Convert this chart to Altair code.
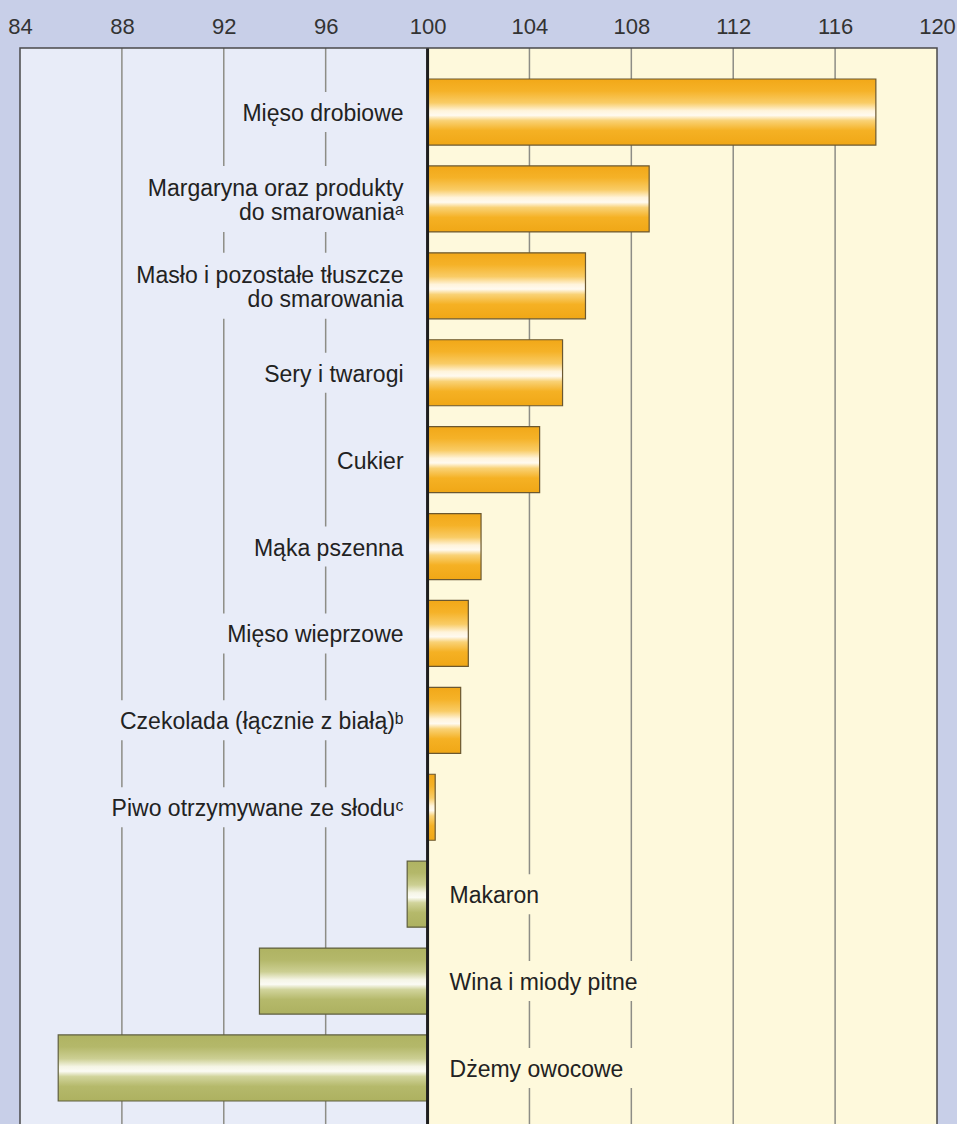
import altair as alt
import pandas as pd

# ---- data ----
categories = [
    "Mięso drobiowe",
    "Margaryna oraz produkty\ndo smarowaniaᵃ",
    "Masło i pozostałe tłuszcze\ndo smarowania",
    "Sery i twarogi",
    "Cukier",
    "Mąka pszenna",
    "Mięso wieprzowe",
    "Czekolada (łącznie z białą)ᵇ",
    "Piwo otrzymywane ze słoduᶜ",
    "Makaron",
    "Wina i miody pitne",
    "Dżemy owocowe",
]
values = [117.6, 108.7, 106.2, 105.3, 104.4, 102.1, 101.6, 101.3, 100.3, 99.2, 93.4, 85.5]
tick_values = [84, 88, 92, 96, 100, 104, 108, 112, 116, 120]
grid_values = [88, 92, 96, 104, 108, 112, 116]
baseline = 100

W, H = 917, 1084
XMIN, XMAX = 84, 120
BG = "#c8cfe8"
LEFT_BG = "#e8ecf8"
RIGHT_BG = "#fef9dc"
FONT = "Liberation Sans"
FS = 23
LH = 24
DX_POS, DX_NEG = -24, 22

# approximate Arial/Liberation Sans advance widths (em/1000) used to size the
# gaps that the labels cut into the grid lines
ADV = {" ": 278, "a": 556, "b": 556, "c": 500, "d": 556, "e": 556, "g": 556,
       "i": 222, "k": 500, "l": 222, "m": 833, "n": 556, "o": 556, "p": 556,
       "r": 333, "s": 500, "t": 278, "u": 556, "w": 722, "y": 500, "z": 500,
       "ł": 222, "ą": 556, "ę": 556, "ż": 500, "M": 833, "C": 722, "D": 722,
       "P": 667, "S": 667, "W": 944, "(": 333, ")": 333}


def text_px(label):
    return max(sum(ADV.get(ch, 420) for ch in line) for line in label.split("\n")) * FS / 1000


ppu = W / (XMAX - XMIN)

df = pd.DataFrame({
    "row": list(range(len(categories))),
    "label": categories,
    "value": values,
    "base": [baseline] * len(values),
})
df["pos"] = df["value"] >= baseline
df["multi"] = df["label"].str.contains("\n")
df["gap_lo"] = [
    baseline - (-DX_POS + text_px(l) + 8) / ppu if p else baseline
    for l, p in zip(df["label"], df["pos"])]
df["gap_hi"] = [
    baseline if p else baseline + (DX_NEG + text_px(l) + 10) / ppu
    for l, p in zip(df["label"], df["pos"])]

xscale = alt.Scale(domain=[XMIN, XMAX], nice=False, zero=False)
xaxis = alt.Axis(orient="top", values=tick_values, title=None, grid=False,
                 ticks=False, tickSize=0, domain=False, labelFontSize=22,
                 labelFont=FONT, labelColor="#333333", labelPadding=10,
                 labelFlush=False, labelOverlap=False)


def X(field):
    return alt.X(field, scale=xscale, axis=xaxis, title=None)


yscale = alt.Scale(paddingInner=0.24, paddingOuter=0.357)
Y = alt.Y("row:O", axis=None, scale=yscale)

left_bg = alt.Chart(pd.DataFrame({"a": [XMIN], "b": [baseline]})).mark_rect(
    fill=LEFT_BG).encode(
    x=X("a:Q"), x2="b:Q",
    y=alt.value(0), y2=alt.value(H))

grid = alt.Chart(pd.DataFrame({"g": grid_values})).mark_rule(
    color="#8d8d86", strokeWidth=1.5).encode(
    x=X("g:Q"),
    y=alt.value(0), y2=alt.value(H))


def gap_layer(flt, color, height):
    return alt.Chart(df).transform_filter(flt).mark_bar(
        fill=color, height=height).encode(
        x=X("gap_lo:Q"), x2="gap_hi:Q", y=Y)


gaps = [
    gap_layer("datum.pos && !datum.multi", LEFT_BG, 40),
    gap_layer("datum.pos && datum.multi", LEFT_BG, 66),
    gap_layer("!datum.pos", RIGHT_BG, 40),
]

txt_common = dict(fontSize=FS, font=FONT, lineBreak="\n", baseline="middle",
                  lineHeight=LH, color="#222222")


def text_layer(flt, align, dx, dy):
    return alt.Chart(df).transform_filter(flt).mark_text(
        align=align, dx=dx, dy=dy, **txt_common).encode(
        x=X("base:Q"), y=Y, text="label:N")


texts = [
    text_layer("datum.pos && !datum.multi", "right", DX_POS, 2),
    text_layer("datum.pos && datum.multi", "right", DX_POS, -10),
    text_layer("!datum.pos", "left", DX_NEG, 2),
]

orange = alt.LinearGradient(
    gradient="linear", x1=0, y1=0, x2=0, y2=1,
    stops=[
        alt.GradientStop(offset=0, color="#f2a818"),
        alt.GradientStop(offset=0.18, color="#f5b228"),
        alt.GradientStop(offset=0.36, color="#f9cc66"),
        alt.GradientStop(offset=0.48, color="#fff4dc"),
        alt.GradientStop(offset=0.55, color="#fffaf0"),
        alt.GradientStop(offset=0.63, color="#f9d276"),
        alt.GradientStop(offset=0.78, color="#f5b124"),
        alt.GradientStop(offset=1, color="#f0a716"),
    ])
green = alt.LinearGradient(
    gradient="linear", x1=0, y1=0, x2=0, y2=1,
    stops=[
        alt.GradientStop(offset=0, color="#afb362"),
        alt.GradientStop(offset=0.18, color="#b4b86a"),
        alt.GradientStop(offset=0.36, color="#cccf93"),
        alt.GradientStop(offset=0.48, color="#f5f5e6"),
        alt.GradientStop(offset=0.55, color="#fbfbf4"),
        alt.GradientStop(offset=0.63, color="#d1d49c"),
        alt.GradientStop(offset=0.78, color="#b5b96b"),
        alt.GradientStop(offset=1, color="#adb160"),
    ])

bars_pos = alt.Chart(df).transform_filter("datum.pos").mark_bar(
    fill=orange, stroke="#6b5830", strokeWidth=1.2).encode(
    x=X("value:Q"), x2="base:Q", y=Y)
bars_neg = alt.Chart(df).transform_filter("!datum.pos").mark_bar(
    fill=green, stroke="#5e5e3e", strokeWidth=1.2).encode(
    x=X("value:Q"), x2="base:Q", y=Y)

zero = alt.Chart(pd.DataFrame({"z": [baseline]})).mark_rule(
    color="#1e1e1e", strokeWidth=3).encode(
    x=X("z:Q"),
    y=alt.value(0), y2=alt.value(H))

border = alt.Chart(pd.DataFrame({"a": [XMIN], "b": [XMAX]})).mark_rect(
    fillOpacity=0, stroke="#4a4a4a", strokeWidth=1.5).encode(
    x=X("a:Q"), x2="b:Q",
    y=alt.value(0), y2=alt.value(H))

chart = alt.layer(
    left_bg, grid, *gaps, bars_pos, bars_neg, zero, *texts, border
).properties(
    width=W, height=H,
    background=BG,
    padding={"left": 20, "top": 48, "right": 20, "bottom": 0},
    autosize=alt.AutoSizeParams(type="none"),
).configure_view(fill=RIGHT_BG, strokeWidth=0)

chart.save("out.html", embed_options={"renderer": "svg", "actions": False})
